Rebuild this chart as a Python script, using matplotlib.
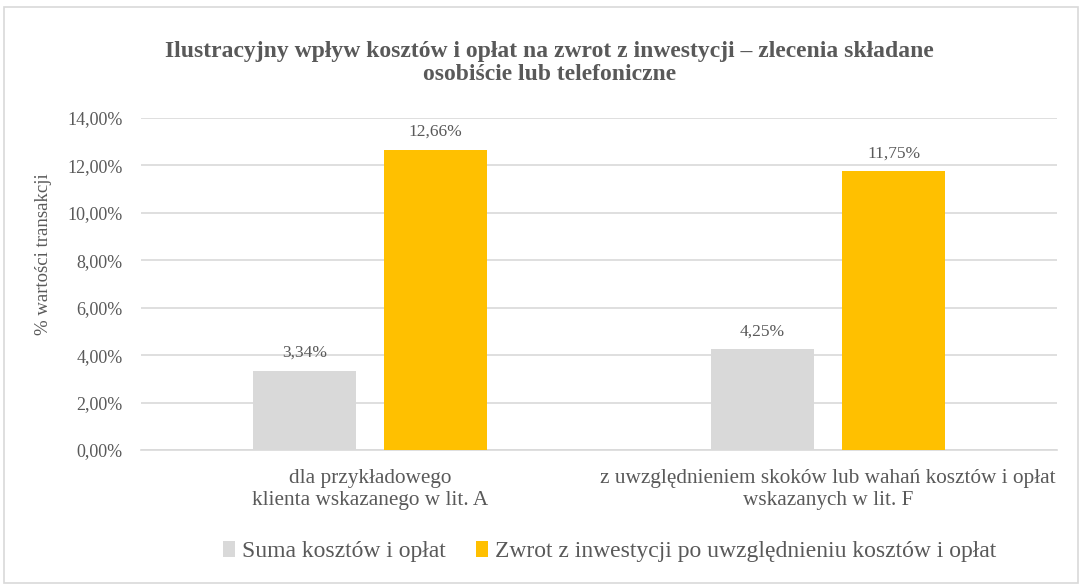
import matplotlib.pyplot as plt
import numpy as np
from matplotlib.patches import Rectangle
from matplotlib.ticker import FuncFormatter

plt.rcParams['font.family'] = ['Liberation Serif', 'DejaVu Serif']

categories = ["dla przykładowego\nklienta wskazanego w lit. A",
              "z uwzględnieniem skoków lub wahań kosztów i opłat\nwskazanych w lit. F"]
costs = [3.34, 4.25]
returns = [12.66, 11.75]
series_names = ["Suma kosztów i opłat",
                "Zwrot z inwestycji po uwzględnieniu kosztów i opłat"]
yticks = [0, 2, 4, 6, 8, 10, 12, 14]

text_col = "#595959"
gray = "#D9D9D9"
gold = "#FFC000"

fig = plt.figure(figsize=(10.81, 5.85), dpi=100)
ax = fig.add_axes([0.1304, 0.2308, 0.8476, 0.5675])

x = np.arange(len(categories))
w = 0.225
b1 = ax.bar(x - 0.143, costs, w, color=gray, label=series_names[0], zorder=3)
b2 = ax.bar(x + 0.143, returns, w, color=gold, label=series_names[1], zorder=3)

for bars, vals in ((b1, costs), (b2, returns)):
    for r, v in zip(bars, vals):
        ax.annotate(f"{v:.2f}%".replace(".", ","), (r.get_x() + r.get_width() / 2, v),
                    xytext=(0, 7), textcoords="offset points", ha="center", va="bottom",
                    fontsize=12.5, color=text_col)

ax.set_xlim(-0.5, 1.5)
ax.set_ylim(0, 14)
ax.set_yticks(yticks)
ax.yaxis.set_major_formatter(FuncFormatter(lambda v, p: f"{v:.2f}%".replace(".", ",")))
ax.set_xticks(x)
ax.set_xticklabels(categories, fontsize=15.3, color=text_col, linespacing=1.2)
ax.tick_params(axis="y", labelsize=13, labelcolor=text_col, length=0, pad=13)
ax.tick_params(axis="x", length=0, pad=14)
ax.grid(axis="y", color=gray, linewidth=1.2, zorder=0)
for s in ["top", "right", "left"]:
    ax.spines[s].set_visible(False)
ax.spines["bottom"].set_color(gray)
ax.spines["bottom"].set_linewidth(1.2)
ax.set_ylabel("% wartości transakcji", fontsize=13.5, color=text_col)
ax.yaxis.set_label_coords(-0.097, 0.59)

fig.text(0.508, 0.892, "Ilustracyjny wpływ kosztów i opłat na zwrot z inwestycji – zlecenia składane\nosobiście lub telefoniczne",
         ha="center", va="center", fontsize=17, fontweight="bold", color=text_col, linespacing=1.15)

fig.legend(handles=[b1, b2], loc="center", bbox_to_anchor=(0.564, 0.057), ncol=2, frameon=False,
           fontsize=17, labelcolor=text_col, handlelength=0.5, handleheight=0.7,
           handletextpad=0.3, columnspacing=1.3)

fig.patches.append(Rectangle((0.004, 0.004), 0.993, 0.984, transform=fig.transFigure,
                             fill=False, edgecolor=gray, linewidth=1.2))

fig.savefig("out.png", dpi=100)
